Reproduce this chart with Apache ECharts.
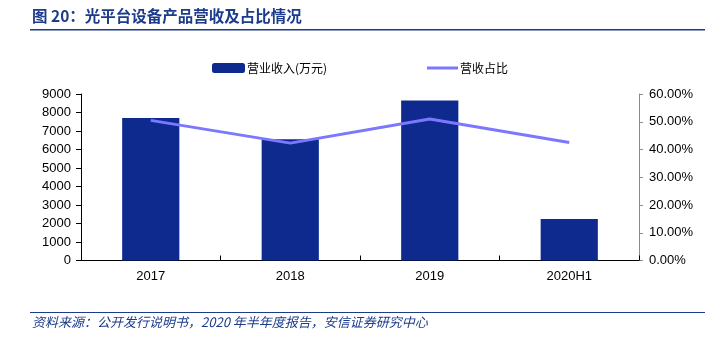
<!DOCTYPE html>
<html>
<head>
<meta charset="utf-8">
<script src="https://cdn.jsdelivr.net/npm/echarts@6/dist/echarts.min.js"></script>
<style>
html,body{margin:0;padding:0;background:#fff;}
#c{width:711px;height:343px;}
</style>
</head>
<body>
<div id="c"></div>
<script>
const categories = ['2017', '2018', '2019', '2020H1'];
const revenue = [7700, 6550, 8650, 2250];
const ratio = [50.5, 42.3, 51.0, 42.5];
const revenueTicks = [0, 9000, 1000];
const ratioTicks = [0, 60, 10];
const titleText = '图 20：光平台设备产品营收及占比情况';
const sourceText = '资料来源：公开发行说明书，2020 年半年度报告，安信证券研究中心';
const seriesNames = ['营业收入(万元)', '营收占比'];

const chart = echarts.init(document.getElementById('c'), null, {renderer: 'canvas'});
const axisFont = {fontFamily: '"Liberation Sans", Arial, sans-serif', fontSize: 13, color: '#000'};
chart.setOption({
  animation: false,
  backgroundColor: '#fff',
  grid: {left: 81, right: 72, top: 94, bottom: 82.5},
  legend: [
    {data: [seriesNames[0]], left: 207, top: 57, itemWidth: 33, itemHeight: 10, itemGap: 0,
     textStyle: {fontFamily: '"Noto Sans CJK SC"', fontSize: 12, color: '#000', padding: [0,0,0,-3]}},
    {data: [{name: seriesNames[1], icon: 'rect'}], left: 422, top: 57, itemWidth: 31, itemHeight: 3,
     textStyle: {fontFamily: '"Noto Sans CJK SC"', fontSize: 12, color: '#000', padding: [0,0,0,-3]}}
  ],
  xAxis: {
    type: 'category', data: categories,
    axisLine: {lineStyle: {color: '#000', width: 1}},
    axisTick: {show: true, inside: true, length: 5, alignWithLabel: false, lineStyle: {color: '#000'}},
    axisLabel: Object.assign({margin: 9}, axisFont)
  },
  yAxis: [
    {type: 'value', min: revenueTicks[0], max: revenueTicks[1], interval: revenueTicks[2],
     axisLine: {show: true, lineStyle: {color: '#000'}},
     axisTick: {show: true, length: 5, lineStyle: {color: '#000'}},
     splitLine: {show: false},
     axisLabel: Object.assign({margin: 10, formatter: v => String(v)}, axisFont)},
    {type: 'value', min: ratioTicks[0], max: ratioTicks[1], interval: ratioTicks[2], position: 'right',
     axisLine: {show: true, lineStyle: {color: '#8a8a8a'}},
     axisTick: {show: true, length: 4, lineStyle: {color: '#8a8a8a'}},
     splitLine: {show: false},
     axisLabel: Object.assign({margin: 10, formatter: v => v.toFixed(2) + '%'}, axisFont)}
  ],
  series: [
    {name: seriesNames[0], type: 'bar', data: revenue, barWidth: '41%',
     itemStyle: {color: '#0e2a8f'}},
    {name: seriesNames[1], type: 'line', yAxisIndex: 1, data: ratio, symbol: 'none',
     lineStyle: {color: '#7b78ff', width: 3}, itemStyle: {color: '#7b78ff'}}
  ],
  graphic: [
    {type: 'text', left: 32, top: 8, style: {text: titleText, font: 'bold 15.5px "Noto Sans CJK SC"', fill: '#1c3b8c'}},
    {type: 'rect', shape: {x: 30, y: 29, width: 675, height: 1.5}, style: {fill: '#1c3b8c'}},
    {type: 'rect', shape: {x: 30, y: 312, width: 675, height: 1}, style: {fill: '#1c3b8c'}},
    {type: 'text', left: 32, top: 316, style: {text: sourceText, font: 'italic 13px "Noto Sans CJK SC"', fill: '#1c3b8c'}}
  ]
});
</script>
</body>
</html>
